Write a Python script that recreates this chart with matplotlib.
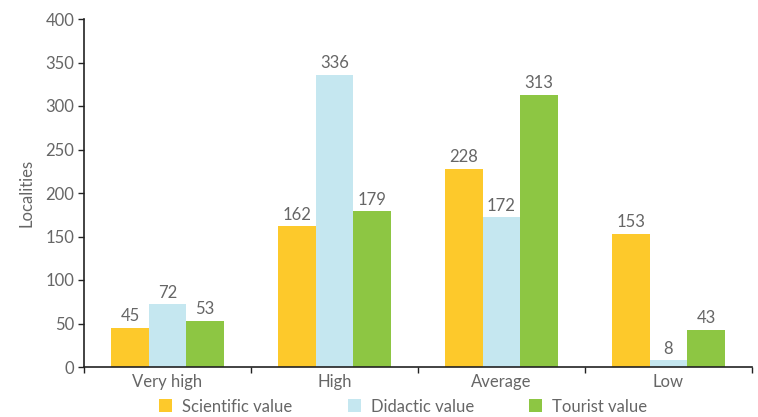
import matplotlib
matplotlib.use("Agg")
import matplotlib.pyplot as plt
import numpy as np
from matplotlib.patches import Patch

categories = ["Very high", "High", "Average", "Low"]
series_names = ["Scientific value", "Didactic value", "Tourist value"]
scientific = [45, 162, 228, 153]
didactic = [72, 336, 172, 8]
tourist = [53, 179, 313, 43]
colors = ["#FDC92B", "#C5E7F0", "#8DC643"]
yticks = [0, 50, 100, 150, 200, 250, 300, 350, 400]

plt.rcParams['font.family'] = ['Lato', 'DejaVu Sans']
txt = "#666666"
fs = 12

fig = plt.figure(figsize=(7.58, 4.17), dpi=100)
ax = fig.add_axes([84/758, 50/417, (752-84)/758, (367-19)/417])

x = np.arange(len(categories))
w = 0.224
for i, (vals, c) in enumerate(zip([scientific, didactic, tourist], colors)):
    pos = x + (i - 1) * w
    ax.bar(pos, vals, width=w, color=c, linewidth=0)
    for p, v in zip(pos, vals):
        ax.annotate(str(v), (p, v), xytext=(0, 2.5), textcoords="offset points",
                    ha="center", va="bottom", fontsize=fs, color=txt)

ax.set_xlim(-0.5, len(categories) - 0.5)
ax.set_ylim(0, 400)
ax.set_yticks(yticks)
ax.set_yticklabels([str(t) for t in yticks], fontsize=fs, color=txt)
ax.set_xticks(np.arange(len(categories) + 1) - 0.5)
ax.set_xticklabels([])
ax.set_xticks(x, minor=True)
ax.set_xticklabels(categories, minor=True, fontsize=fs, color=txt)
ax.tick_params(axis="x", which="minor", length=0, pad=5)
ax.tick_params(axis="x", which="major", length=4, width=1, color="#222222")
ax.tick_params(axis="y", length=4, width=1, color="#222222", pad=3)
for s in ["top", "right"]:
    ax.spines[s].set_visible(False)
for s in ["left", "bottom"]:
    ax.spines[s].set_color("#222222")
    ax.spines[s].set_linewidth(1.2)
ax.set_ylabel("Localities", fontsize=fs, color=txt, labelpad=8)

handles = [Patch(facecolor=c, edgecolor="none") for c in colors]
fig.legend(handles, series_names, loc="center", bbox_to_anchor=(0.532, 0.025), ncol=3,
           frameon=False, labelcolor=txt, handlelength=0.8, handleheight=0.8,
           columnspacing=3.3, handletextpad=0.6, prop={'size': fs})

fig.savefig("out.png", dpi=100)
